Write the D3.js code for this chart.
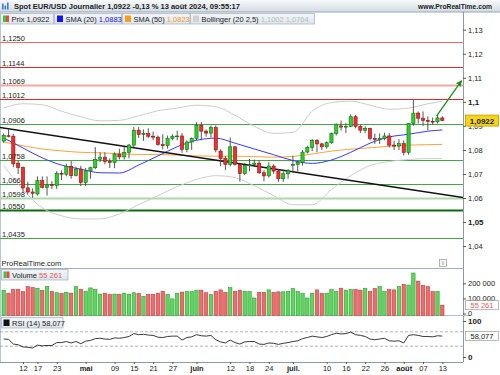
<!DOCTYPE html>
<html lang="fr">
<head>
<meta charset="UTF-8">
<title>Spot EUR/USD Journalier</title>
<script src="https://cdn.jsdelivr.net/npm/d3@7"></script>
<style>
  body { margin: 0; background: #ffffff; }
  svg text { font-family: "Liberation Sans", Arial, sans-serif; font-size: 7.5px; fill: #222; }
</style>
</head>
<body>
<svg id="chart" width="500" height="375"></svg>
<script>
// ---- values ----
const days = [
  "08/04","09/04","10/04","11/04","12/04","15/04","16/04","17/04","18/04","19/04","22/04","23/04","24/04","25/04","26/04","29/04","30/04",
  "01/05","02/05","03/05","06/05","07/05","08/05","09/05","10/05","13/05","14/05","15/05","16/05","17/05","20/05","21/05","22/05","23/05","24/05","27/05","28/05","29/05","30/05","31/05",
  "03/06","04/06","05/06","06/06","07/06","10/06","11/06","12/06","13/06","14/06","17/06","18/06","19/06","20/06","21/06","24/06","25/06","26/06","27/06","28/06",
  "01/07","02/07","03/07","04/07","05/07","08/07","09/07","10/07","11/07","12/07","15/07","16/07","17/07","18/07","19/07","22/07","23/07","24/07","25/07","26/07","29/07","30/07","31/07",
  "01/08","02/08","05/08","06/08","07/08","08/08","09/08","12/08","13/08"
];
const open = [
  1.0837,1.0859,1.0857,1.0745,1.0727,1.0642,1.0625,1.0617,1.0672,1.0644,1.0656,1.0652,1.0703,1.0699,1.0732,1.0693,1.0720,
  1.0665,1.0713,1.0726,1.0761,1.0770,1.0752,1.0748,1.0783,1.0771,1.0790,1.0820,1.0882,1.0865,1.0868,1.0857,1.0853,1.0822,1.0818,1.0847,1.0857,1.0858,1.0802,1.0833,
  1.0848,1.0902,1.0878,1.0870,1.0893,1.0795,1.0764,1.0740,1.0813,1.0740,1.0702,1.0735,1.0739,1.0745,1.0705,1.0692,1.0733,1.0712,1.0680,1.0701,
  1.0735,1.0740,1.0748,1.0791,1.0810,1.0840,1.0825,1.0813,1.0830,1.0868,1.0900,1.0895,1.0898,1.0938,1.0898,1.0882,1.0890,1.0848,1.0844,1.0848,1.0858,1.0820,1.0816,
  1.0826,1.0790,1.0910,1.0953,1.0932,1.0923,1.0919,1.0917,1.0933
];
const high = [
  1.0868,1.0885,1.0867,1.0756,1.0731,1.0668,1.0640,1.0690,1.0690,1.0690,1.0670,1.0712,1.0715,1.0743,1.0754,1.0730,1.0734,
  1.0725,1.0730,1.0812,1.0790,1.0790,1.0765,1.0790,1.0805,1.0812,1.0825,1.0895,1.0895,1.0885,1.0890,1.0876,1.0860,1.0865,1.0860,1.0865,1.0880,1.0870,1.0840,1.0852,
  1.0915,1.0916,1.0885,1.0902,1.0902,1.0803,1.0775,1.0852,1.0815,1.0745,1.0745,1.0762,1.0760,1.0755,1.0715,1.0748,1.0740,1.0720,1.0718,1.0720,
  1.0776,1.0755,1.0800,1.0818,1.0845,1.0845,1.0830,1.0835,1.0872,1.0910,1.0922,1.0912,1.0948,1.0945,1.0905,1.0898,1.0892,1.0868,1.0869,1.0872,1.0870,1.0838,1.0845,
  1.0840,1.0912,1.1009,1.0960,1.0960,1.0940,1.0935,1.0945,1.0940
];
const low = [
  1.0830,1.0852,1.0728,1.0700,1.0622,1.0615,1.0601,1.0610,1.0640,1.0610,1.0637,1.0638,1.0675,1.0690,1.0680,1.0690,1.0650,
  1.0650,1.0680,1.0720,1.0750,1.0740,1.0725,1.0724,1.0760,1.0760,1.0765,1.0810,1.0850,1.0838,1.0850,1.0840,1.0818,1.0802,1.0805,1.0840,1.0840,1.0788,1.0790,1.0800,
  1.0840,1.0840,1.0855,1.0852,1.0790,1.0732,1.0716,1.0732,1.0735,1.0668,1.0696,1.0712,1.0730,1.0700,1.0670,1.0685,1.0700,1.0667,1.0667,1.0680,
  1.0710,1.0710,1.0735,1.0785,1.0795,1.0790,1.0800,1.0805,1.0825,1.0860,1.0880,1.0870,1.0895,1.0890,1.0870,1.0870,1.0840,1.0825,1.0825,1.0840,1.0810,1.0800,1.0800,
  1.0777,1.0780,1.0900,1.0910,1.0900,1.0882,1.0905,1.0910,1.0920
];
const close = [
  1.0861,1.0857,1.0742,1.0727,1.0642,1.0625,1.0620,1.0672,1.0644,1.0655,1.0652,1.0703,1.0699,1.0732,1.0693,1.0720,1.0665,
  1.0713,1.0726,1.0761,1.0770,1.0752,1.0748,1.0783,1.0771,1.0790,1.0820,1.0882,1.0865,1.0868,1.0857,1.0853,1.0822,1.0818,1.0847,1.0857,1.0858,1.0802,1.0833,1.0848,
  1.0902,1.0878,1.0870,1.0893,1.0800,1.0764,1.0740,1.0813,1.0740,1.0702,1.0735,1.0739,1.0745,1.0705,1.0692,1.0733,1.0712,1.0680,1.0701,1.0713,
  1.0740,1.0748,1.0791,1.0810,1.0840,1.0825,1.0813,1.0830,1.0868,1.0907,1.0895,1.0898,1.0938,1.0898,1.0882,1.0890,1.0848,1.0844,1.0848,1.0858,1.0820,1.0816,1.0826,
  1.0790,1.0910,1.0953,1.0932,1.0923,1.0919,1.0917,1.0933,1.0922
];
const volume = [
  155000,135000,159000,161000,146000,179000,172000,168000,153000,179000,146000,138000,133000,140000,135000,179000,161000,
  148000,170000,159000,129000,135000,127000,129000,127000,135000,127000,138000,133000,114000,127000,127000,135000,148000,127000,97000,135000,142000,146000,146000,
  155000,155000,138000,125000,146000,157000,140000,172000,148000,155000,148000,146000,103000,140000,140000,157000,140000,144000,144000,146000,
  166000,146000,133000,103000,135000,157000,133000,133000,159000,146000,168000,155000,159000,159000,155000,168000,146000,166000,179000,146000,159000,157000,179000,
  194000,189000,269000,215000,187000,179000,146000,146000,55261
];
const rsi = [
  50,49,36,34,28,27,25,33,31,32,32,40,40,43,39,43,37,
  44,46,51,52,50,49,53,52,54,57,65,62,63,61,60,55,54,57,58,58,47,54,56,
  62,59,58,60,48,42,39,47,40,36,42,43,43,36,35,39,38,35,38,40,
  43,45,51,54,58,56,54,57,62,66,64,65,69,62,60,57,50,48,50,52,45,44,45,
  39,60,62,60,57,57,56,59,58.077
];

// indicator lines, read every 4th session
const lineIdx = [0,4,8,12,16,20,24,28,32,36,40,44,48,52,56,60,64,68,72,76,80,84,88,91];
const sma20 = [1.0850,1.0808,1.0767,1.0737,1.0720,1.0705,1.0704,1.0737,1.0775,1.0813,1.0840,1.0849,1.0828,1.0804,1.0780,1.0756,1.0744,1.0758,1.0790,1.0828,1.0854,1.0865,1.0878,1.0883];
const sma50 = [1.0833,1.0817,1.0804,1.0796,1.0790,1.0788,1.0784,1.0781,1.0781,1.0778,1.0775,1.0774,1.0774,1.0772,1.0770,1.0773,1.0783,1.0795,1.0803,1.0809,1.0815,1.0820,1.0822,1.0823];
const bollUp = [1.0974,1.0992,1.0988,1.0961,1.0938,1.0921,1.0923,1.0942,1.0963,1.0974,1.0986,1.0980,1.0944,1.0898,1.0869,1.0873,1.0961,1.0997,1.1003,1.0986,1.0969,1.0974,1.0992,1.1002];
const bollDn = [1.0735,1.0635,1.0559,1.0526,1.0513,1.0513,1.0534,1.0572,1.0610,1.0647,1.0677,1.0693,1.0685,1.0651,1.0610,1.0572,1.0572,1.0635,1.0693,1.0735,1.0752,1.0760,1.0764,1.0764];

// drawn objects: horizontal levels, trend line, arrow (session index, price)
const levelValues = [1.1250,1.1144,1.1069,1.1012,1.0906,1.0758,1.0660,1.0598,1.0550,1.0435];
const levelLabels = ["1,1250","1,1144","1,1069","1,1012","1,0906","1,0758","1,066","1,0598","1,0550","1,0435"];
const levelKind = ["r1","r","r2","r","s","s","s","s2","s3","s"];
const trendPts = [[-0.8, 1.0893], [95.3, 1.0602]];
const arrowPts = [[89.8, 1.0941], [95.0, 1.1088]];

const priceTicks = [1.04,1.05,1.06,1.07,1.08,1.09,1.10,1.11,1.12,1.13];
const tickDays = ["12/04","17/04","23/04","01/05","09/05","15/05","21/05","27/05","03/06","12/06","18/06","24/06","01/07","10/07","16/07","22/07","26/07","01/08","07/08","13/08"];
const tickLabels = ["12","17","23","mai","09","15","21","27","juin","12","18","24","juil.","10","16","22","26","août","07","13"];

// ---- layout ----
const W = 500, H = 375, plotR = 463;
const volBottom = 315.5;
const svg = d3.select("#chart");
const x = d3.scaleLinear().domain([0, days.length - 1]).range([3.7, 442.3]);
const y = d3.scaleLinear().domain([1.04, 1.13]).range([246.1, 29.7]);
const yv = d3.scaleLinear().domain([0, 200000]).range([313.5, 283.4]);
const yr = d3.scaleLinear().domain([0, 100]).range([357, 321]);
const comma = v => String(v).replace(".", ",");
const spaced = v => d3.format(",")(v).replace(/,/g, " ");
const up = i => close[i] >= open[i];

const levelStyle = {
  r1: ["#ee6a6a", 1], r: ["#e02a2a", 1], r2: ["#f4a6a6", 2],
  s: ["#45a645", 1], s2: ["#aad9aa", 2], s3: ["#0c6c0c", 2]
};

const defs = svg.append("defs");
const hdr = defs.append("linearGradient").attr("id", "hdr").attr("x1", 0).attr("y1", 0).attr("x2", 0).attr("y2", 1);
hdr.append("stop").attr("offset", "0%").attr("stop-color", "#f8fafb");
hdr.append("stop").attr("offset", "100%").attr("stop-color", "#d2dbe3");
const leg = defs.append("linearGradient").attr("id", "leg").attr("x1", 0).attr("y1", 0).attr("x2", 0).attr("y2", 1);
leg.append("stop").attr("offset", "0%").attr("stop-color", "#f3f6f9");
leg.append("stop").attr("offset", "100%").attr("stop-color", "#dde5ec");
defs.append("clipPath").attr("id", "mainclip")
  .append("rect").attr("x", 0).attr("y", 12).attr("width", plotR).attr("height", 256);
defs.append("marker").attr("id", "head").attr("viewBox", "0 0 10 10")
  .attr("refX", 9).attr("refY", 5).attr("markerWidth", 6).attr("markerHeight", 6)
  .attr("orient", "auto").attr("markerUnits", "userSpaceOnUse")
  .append("path").attr("d", "M0,0 L10,5 L0,10 z").attr("fill", "#1e8c1e");

svg.append("rect").attr("width", W).attr("height", H).attr("fill", "#fff");

// header
svg.append("rect").attr("width", W).attr("height", 12).attr("fill", "url(#hdr)");
svg.append("line").attr("x1", 0).attr("x2", W).attr("y1", 12).attr("y2", 12).attr("stroke", "#97a6b4");
[[2, 6], [4.5, 4], [7, 7]].forEach(([bx, bh]) => {
  svg.append("rect").attr("x", bx).attr("y", 9.5 - bh).attr("width", 1.6).attr("height", bh).attr("fill", "#3b7fd0");
});
svg.append("text").attr("x", 14).attr("y", 8.8).style("font-weight", "bold")
  .attr("textLength", 226).attr("lengthAdjust", "spacingAndGlyphs")
  .text("Spot EUR/USD Journalier 1,0922 -0,13 % 13 août 2024, 09:55:17");
svg.append("text").attr("x", 418).attr("y", 8.8).style("font-weight", "bold")
  .attr("textLength", 74).attr("lengthAdjust", "spacingAndGlyphs")
  .text("www.ProRealTime.com");

// frame lines
svg.append("line").attr("x1", 0.5).attr("x2", 0.5).attr("y1", 12).attr("y2", 362).attr("stroke", "#b9c6d3");
svg.append("line").attr("x1", plotR + 0.5).attr("x2", plotR + 0.5).attr("y1", 12).attr("y2", 362).attr("stroke", "#8e9aa6");

// ---- main price panel ----
const main = svg.append("g").attr("clip-path", "url(#mainclip)");

main.selectAll("line.level").data(levelValues).join("line").attr("class", "level")
  .attr("x1", 0).attr("x2", plotR)
  .attr("y1", d => Math.round(y(d)) + 0.5).attr("y2", d => Math.round(y(d)) + 0.5)
  .attr("stroke", (d, i) => levelStyle[levelKind[i]][0])
  .attr("stroke-width", (d, i) => levelStyle[levelKind[i]][1]);

const smooth = d3.line().x((d, k) => x(lineIdx[k])).y(d => y(d)).curve(d3.curveMonotoneX);
main.append("path").attr("d", smooth(bollUp)).attr("fill", "none").attr("stroke", "#cdcdcd").attr("stroke-width", 1);
main.append("path").attr("d", smooth(bollDn)).attr("fill", "none").attr("stroke", "#cdcdcd").attr("stroke-width", 1);
main.append("path").attr("d", smooth(sma50)).attr("fill", "none").attr("stroke", "#ffa23a").attr("stroke-width", 1);
main.append("path").attr("d", smooth(sma20)).attr("fill", "none").attr("stroke", "#3a3af2").attr("stroke-width", 1);

main.append("line")
  .attr("x1", x(trendPts[0][0])).attr("y1", y(trendPts[0][1]))
  .attr("x2", x(trendPts[1][0])).attr("y2", y(trendPts[1][1]))
  .attr("stroke", "#111").attr("stroke-width", 1.5);

const idx = d3.range(days.length);
const cg = main.append("g");
cg.selectAll("line.wick").data(idx).join("line").attr("class", "wick")
  .attr("x1", i => x(i)).attr("x2", i => x(i))
  .attr("y1", i => y(high[i])).attr("y2", i => y(low[i]))
  .attr("stroke", "#444").attr("stroke-width", 0.9);
cg.selectAll("rect.body").data(idx).join("rect").attr("class", "body")
  .attr("x", i => x(i) - 1.6).attr("width", 3.2)
  .attr("y", i => y(Math.max(open[i], close[i])))
  .attr("height", i => Math.max(0.8, Math.abs(y(open[i]) - y(close[i]))))
  .attr("fill", i => up(i) ? "#30cc30" : "#ee3030")
  .attr("stroke", i => up(i) ? "#106e10" : "#8c1414").attr("stroke-width", 0.6);

main.append("line")
  .attr("x1", x(arrowPts[0][0])).attr("y1", y(arrowPts[0][1]))
  .attr("x2", x(arrowPts[1][0])).attr("y2", y(arrowPts[1][1]))
  .attr("stroke", "#1e8c1e").attr("stroke-width", 1.3).attr("marker-end", "url(#head)");

main.selectAll("text.lvl").data(levelValues).join("text").attr("class", "lvl")
  .attr("x", 2).attr("y", d => Math.round(y(d)) - 1.5)
  .text((d, i) => levelLabels[i]);

svg.append("text").attr("x", 1.5).attr("y", 266).text("ProRealTime.com");
svg.append("rect").attr("x", 439.5).attr("y", 259.5).attr("width", 7).attr("height", 7)
  .attr("fill", "#f3f3f3").attr("stroke", "#999").attr("stroke-width", 0.7);
svg.append("text").attr("x", 443).attr("y", 265.3).attr("text-anchor", "middle")
  .style("font-size", "6px").style("fill", "#666").text("i");

// price axis
const pAxis = svg.append("g").attr("transform", `translate(${plotR},0)`).attr("color", "#555")
  .call(d3.axisRight(y).tickValues(priceTicks).tickSize(3).tickPadding(2)
    .tickFormat(d => d3.format(".2~f")(d).replace(".", ",")));
pAxis.select(".domain").remove();
const major = d => Math.round(d * 100) % 5 === 0;
pAxis.selectAll("text").style("font-weight", d => major(d) ? "bold" : "normal")
  .style("font-size", d => major(d) ? "8px" : "7.5px");

// last price tag
const yLast = y(close[close.length - 1]);
svg.append("rect").attr("x", 465.5).attr("y", yLast - 5.5).attr("width", 33).attr("height", 11)
  .attr("fill", "#f6d41a").attr("stroke", "#b99a00").attr("stroke-width", 0.8);
svg.append("text").attr("x", 482).attr("y", yLast + 3).attr("text-anchor", "middle")
  .style("font-weight", "bold").style("font-size", "8px").text(comma(close[close.length - 1]));

// legend boxes
function legendBox(bx, bw, by) {
  svg.append("rect").attr("x", bx).attr("y", by).attr("width", bw).attr("height", 10.5)
    .attr("fill", "url(#leg)").attr("stroke", "#a9b6c2").attr("stroke-width", 0.8);
}
function splitIcon(ix, iy) {
  svg.append("rect").attr("x", ix).attr("y", iy).attr("width", 3).attr("height", 6.5).attr("fill", "#3cc83c");
  svg.append("rect").attr("x", ix + 3).attr("y", iy).attr("width", 3).attr("height", 6.5).attr("fill", "#e24a4a");
}
function squareIcon(ix, iy, c) {
  svg.append("rect").attr("x", ix).attr("y", iy).attr("width", 6).attr("height", 6.5).attr("fill", c);
}
legendBox(0.5, 53, 13.5); splitIcon(3, 15.5);
svg.append("text").attr("x", 11.5).attr("y", 21.5).text("Prix " + comma(close[close.length - 1]));
legendBox(54.5, 67, 13.5); squareIcon(57, 15.5, "#1414f0");
const t2 = svg.append("text").attr("x", 65.5).attr("y", 21.5).text("SMA (20) ");
t2.append("tspan").style("fill", "#1414f0").text(comma(sma20[sma20.length - 1]));
legendBox(122.5, 67.5, 13.5); squareIcon(125, 15.5, "#ff9c1c");
const t3 = svg.append("text").attr("x", 133.5).attr("y", 21.5).text("SMA (50) ");
t3.append("tspan").style("fill", "#f39a1e").text(comma(sma50[sma50.length - 1]));
legendBox(190.5, 124, 13.5); squareIcon(193, 15.5, "#d2d2d2");
const t4 = svg.append("text").attr("x", 201.5).attr("y", 21.5).text("Bollinger (20 2,5) ");
t4.append("tspan").style("fill", "#bcbcbc")
  .text(comma(bollUp[bollUp.length - 1]) + " " + comma(bollDn[bollDn.length - 1]));

// ---- volume panel ----
svg.append("line").attr("x1", 0).attr("x2", plotR).attr("y1", 268.5).attr("y2", 268.5).attr("stroke", "#9fb0c0");
svg.append("line").attr("x1", 0).attr("x2", 470).attr("y1", volBottom).attr("y2", volBottom).attr("stroke", "#b5c0ca");
svg.append("g").selectAll("rect").data(idx).join("rect")
  .attr("x", i => x(i) - 1.7).attr("width", 3.4)
  .attr("y", i => yv(volume[i])).attr("height", i => volBottom - yv(volume[i]))
  .attr("fill", i => up(i) ? "#5fd65f" : "#ee6c6c")
  .attr("stroke", i => up(i) ? "#2e9c2e" : "#c23c3c").attr("stroke-width", 0.6);
const vAxis = svg.append("g").attr("transform", `translate(${plotR},0)`).attr("color", "#555")
  .call(d3.axisRight(yv).tickValues([0, 100000, 200000]).tickSize(3).tickPadding(2)
    .tickFormat(spaced));
vAxis.select(".domain").remove();
legendBox(1.5, 66.5, 269.5); splitIcon(3.5, 271.5);
const tv = svg.append("text").attr("x", 12).attr("y", 277.5).text("Volume ");
tv.append("tspan").style("fill", "#e05a5a").text(spaced(volume[volume.length - 1]));
const yVol = yv(volume[volume.length - 1]);
svg.append("rect").attr("x", 465.5).attr("y", yVol - 4.5).attr("width", 33).attr("height", 9)
  .attr("fill", "#fff").attr("stroke", "#999").attr("stroke-width", 0.7);
svg.append("text").attr("x", 482).attr("y", yVol + 2.7).attr("text-anchor", "middle")
  .style("fill", "#e05a5a").text(spaced(volume[volume.length - 1]));

// ---- RSI panel ----
svg.selectAll("line.rsiref").data([70, 30]).join("line").attr("class", "rsiref")
  .attr("x1", 0).attr("x2", plotR).attr("y1", d => yr(d)).attr("y2", d => yr(d))
  .attr("stroke", "#a0a0a0").attr("stroke-dasharray", "3,2").attr("stroke-width", 0.8);
svg.append("path").attr("d", d3.line().x((d, i) => x(i)).y(d => yr(d))(rsi))
  .attr("fill", "none").attr("stroke", "#222").attr("stroke-width", 0.9);
const rAxis = svg.append("g").attr("transform", `translate(${plotR},0)`).attr("color", "#555")
  .call(d3.axisRight(yr).tickValues([0, 100]).tickSize(3).tickPadding(2));
rAxis.select(".domain").remove();
rAxis.selectAll("text").style("font-weight", "bold").style("font-size", "8px");
legendBox(1.5, 61.5, 317.5); squareIcon(3.5, 319.5, "#111");
svg.append("text").attr("x", 12).attr("y", 325.5).text("RSI (14) " + comma(rsi[rsi.length - 1]));
const yRsi = yr(rsi[rsi.length - 1]);
svg.append("rect").attr("x", 465.5).attr("y", yRsi - 4.5).attr("width", 33).attr("height", 9)
  .attr("fill", "#fff").attr("stroke", "#999").attr("stroke-width", 0.7);
svg.append("text").attr("x", 482).attr("y", yRsi + 2.7).attr("text-anchor", "middle")
  .text(comma(rsi[rsi.length - 1]));

// ---- date axis ----
svg.append("line").attr("x1", 0).attr("x2", plotR).attr("y1", 362.5).attr("y2", 362.5).attr("stroke", "#8e9aa6");
const tickIdx = tickDays.map(d => days.indexOf(d));
const xAxis = svg.append("g").attr("transform", "translate(0,362)").attr("color", "#555")
  .call(d3.axisBottom(x).tickValues(tickIdx).tickSize(2).tickPadding(2)
    .tickFormat((d, k) => tickLabels[k]));
xAxis.select(".domain").remove();
xAxis.selectAll("text").style("font-weight", (d, k) => /^\d+$/.test(tickLabels[k]) ? "normal" : "bold");
</script>
</body>
</html>
